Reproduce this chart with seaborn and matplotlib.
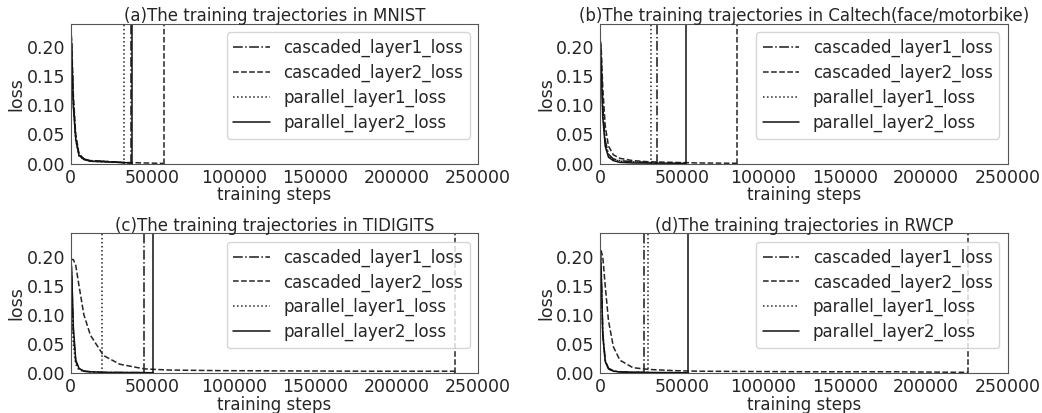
import pandas as pd
import seaborn as sns
import matplotlib.pyplot as plt

# shared sampling grid of training steps
steps = [0, 500, 1500, 3000, 5000, 8000, 12000, 20000, 30000, 45000, 60000, 90000, 130000, 180000, 235000]

names = ['cascaded_layer1_loss', 'cascaded_layer2_loss', 'parallel_layer1_loss', 'parallel_layer2_loss']
titles = ['(a)The training trajectories in MNIST',
          '(b)The training trajectories in Caltech(face/motorbike)',
          '(c)The training trajectories in TIDIGITS',
          '(d)The training trajectories in RWCP']

# (a) MNIST
mnist_c1 = [0.235, 0.2, 0.11, 0.045, 0.015, 0.008, 0.005, 0.004, 0.002]
mnist_c2 = [0.235, 0.21, 0.12, 0.05, 0.017, 0.008, 0.005, 0.004, 0.002, 0.001, 0.0005]
mnist_p1 = [0.23, 0.19, 0.1, 0.04, 0.013, 0.007, 0.004, 0.003, 0.002]
mnist_p2 = [0.235, 0.2, 0.1, 0.042, 0.014, 0.007, 0.004, 0.003, 0.002]
mnist_end = [37000, 57000, 32500, 37500]

# (b) Caltech
caltech_c1 = [0.21, 0.19, 0.1, 0.04, 0.016, 0.008, 0.005, 0.003, 0.002]
caltech_c2 = [0.21, 0.2, 0.13, 0.065, 0.03, 0.015, 0.009, 0.005, 0.003, 0.002, 0.001]
caltech_p1 = [0.205, 0.18, 0.09, 0.035, 0.014, 0.007, 0.004, 0.003]
caltech_p2 = [0.21, 0.17, 0.08, 0.03, 0.011, 0.005, 0.002, 0.001, 0.0008, 0.0006]
caltech_end = [35000, 84000, 31000, 52500]

# (c) TIDIGITS
tidigits_c1 = [0.195, 0.17, 0.07, 0.02, 0.007, 0.003, 0.002, 0.001, 0.0008, 0.0006]
tidigits_c2 = [0.195, 0.195, 0.195, 0.185, 0.15, 0.1, 0.065, 0.03, 0.015, 0.007, 0.005, 0.004, 0.0035, 0.003, 0.003]
tidigits_p1 = [0.195, 0.15, 0.05, 0.015, 0.005, 0.003, 0.002, 0.001]
tidigits_p2 = [0.195, 0.18, 0.08, 0.022, 0.008, 0.003, 0.002, 0.001, 0.0008, 0.0006]
tidigits_end = [45000, 236000, 19000, 50700]

# (d) RWCP
rwcp_c1 = [0.21, 0.18, 0.07, 0.022, 0.008, 0.004, 0.002, 0.0015]
rwcp_c2 = [0.21, 0.21, 0.2, 0.15, 0.09, 0.045, 0.022, 0.009, 0.006, 0.004, 0.003, 0.0025, 0.002, 0.002]
rwcp_p1 = [0.205, 0.17, 0.065, 0.02, 0.007, 0.003, 0.002, 0.0015]
rwcp_p2 = [0.21, 0.18, 0.065, 0.02, 0.007, 0.003, 0.0015, 0.001, 0.0008, 0.0006]
rwcp_end = [26500, 225700, 29000, 54100]

panels = [
    ([mnist_c1, mnist_c2, mnist_p1, mnist_p2], mnist_end),
    ([caltech_c1, caltech_c2, caltech_p1, caltech_p2], caltech_end),
    ([tidigits_c1, tidigits_c2, tidigits_p1, tidigits_p2], tidigits_end),
    ([rwcp_c1, rwcp_c2, rwcp_p1, rwcp_p2], rwcp_end),
]

styles = ['-.', '--', ':', '-']
colors = ['#1a1a1a', '#262626', '#262626', '#111111']

sns.set_style('white')
plt.rcParams['font.family'] = ['DejaVu Sans']

fig, axes = plt.subplots(2, 2, figsize=(10.42, 4.13), dpi=100)
fig.subplots_adjust(left=0.068, right=0.967, top=0.942, bottom=0.097, wspace=0.3, hspace=0.5)

for ax, (series, ends), title in zip(axes.flat, panels, titles):
    for vals, end, name, ls, col in zip(series, ends, names, styles, colors):
        x = steps[:len(vals)] + [end]
        y = vals + [vals[-1] * 0.5]
        df = pd.DataFrame({'step': x, 'loss': y})
        df = df[df['step'] <= end]
        sns.lineplot(data=df, x='step', y='loss', ax=ax, color=col,
                     linestyle=ls, linewidth=1.1, label=name)
        # vertical marker where the run stopped
        ax.axvline(end, color=col, linestyle=ls, linewidth=1.1)
    ax.set_xlim(0, 250000)
    ax.set_ylim(0, 0.24)
    ax.set_yticks([0.0, 0.05, 0.10, 0.15, 0.20])
    ax.set_xticks([0, 50000, 100000, 150000, 200000, 250000])
    ax.set_xticklabels(['0', '50000', '100000', '150000', '200000', '250000'])
    ax.tick_params(labelsize=12.5, pad=0.5)
    ax.set_xlabel('training steps', fontsize=12, labelpad=-0.5)
    ax.set_ylabel('loss', fontsize=12.5, labelpad=1)
    ax.set_title(title, fontsize=12, pad=2)
    ax.legend(loc='upper right', fontsize=12, handlelength=2.2, labelspacing=0.4,
              borderaxespad=0.5)
    for s in ax.spines.values():
        s.set_color('#555555')

fig.savefig('out.png')
